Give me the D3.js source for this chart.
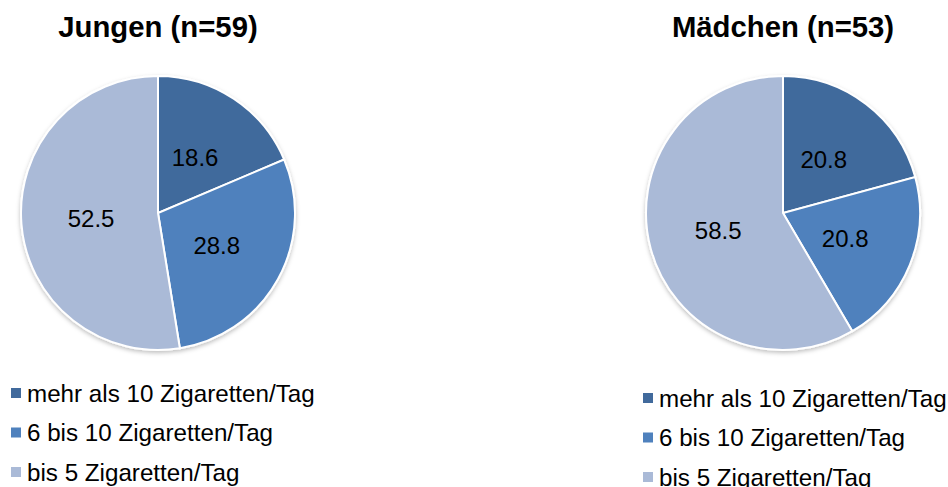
<!DOCTYPE html>
<html>
<head>
<meta charset="utf-8">
<script src="https://cdn.jsdelivr.net/npm/d3@7"></script>
<style>
  body { margin: 0; background: #fff; }
  text { font-family: "Liberation Sans", Arial, sans-serif; }
</style>
</head>
<body>
<div id="chart"></div>
<script>
// Data
const categories = ["mehr als 10 Zigaretten/Tag", "6 bis 10 Zigaretten/Tag", "bis 5 Zigaretten/Tag"];
const titles = ["Jungen (n=59)", "Mädchen (n=53)"];
const jungenValues = [18.6, 28.8, 52.5];
const maedchenValues = [20.8, 20.8, 58.5];
const colors = ["#416a9c", "#4f81bd", "#aabad7"];

const width = 948, height = 487;
const svg = d3.select("#chart").append("svg")
    .attr("width", width)
    .attr("height", height);

// soft shadow like the office chart
const filter = svg.append("defs").append("filter")
    .attr("id", "shadow")
    .attr("x", "-10%").attr("y", "-10%")
    .attr("width", "120%").attr("height", "125%");
filter.append("feDropShadow")
    .attr("dx", 0).attr("dy", 2)
    .attr("stdDeviation", 2)
    .attr("flood-color", "#000")
    .attr("flood-opacity", 0.25);

const color = d3.scaleOrdinal().domain(categories).range(colors);
const radius = 137;
const pie = d3.pie().sort(null).value(d => d.value);
const arc = d3.arc().innerRadius(0).outerRadius(radius);
const labelArc = d3.arc().innerRadius(radius * 0.98).outerRadius(0);

const panels = [
    { title: titles[0], values: jungenValues, cx: 158, cy: 213, legendX: 11, legendY: 393 },
    { title: titles[1], values: maedchenValues, cx: 783, cy: 213, legendX: 643, legendY: 398 }
];

panels.forEach(p => {
    const data = categories.map((c, i) => ({ category: c, value: p.values[i] }));

    // Title
    svg.append("text")
        .attr("x", p.cx)
        .attr("y", 37)
        .attr("text-anchor", "middle")
        .style("font-size", "29.3px")
        .style("font-weight", "bold")
        .text(p.title);

    const g = svg.append("g")
        .attr("transform", `translate(${p.cx}, ${p.cy})`);

    g.append("g")
        .attr("filter", "url(#shadow)")
        .selectAll("path")
        .data(pie(data))
        .join("path")
        .attr("d", arc)
        .attr("fill", d => color(d.data.category))
        .attr("stroke", "#fff")
        .attr("stroke-width", 2);

    // Value labels roughly halfway out
    g.selectAll("text.value")
        .data(pie(data))
        .join("text")
        .attr("class", "value")
        .attr("transform", d => `translate(${labelArc.centroid(d)})`)
        .attr("text-anchor", "middle")
        .attr("dy", "0.36em")
        .style("font-size", "24px")
        .style("fill", "#000")
        .text(d => d3.format(".1f")(d.data.value));

    // Legend
    const legend = svg.append("g")
        .attr("transform", `translate(${p.legendX}, ${p.legendY})`);
    categories.forEach((c, i) => {
        const row = legend.append("g").attr("transform", `translate(0, ${i * 39.5})`);
        row.append("rect")
            .attr("x", 0).attr("y", -5)
            .attr("width", 10).attr("height", 10)
            .attr("fill", color(c));
        row.append("text")
            .attr("x", 16)
            .attr("y", 8.5)
            .style("font-size", "24.2px")
            .style("fill", "#000")
            .text(c);
    });
});
</script>
</body>
</html>
